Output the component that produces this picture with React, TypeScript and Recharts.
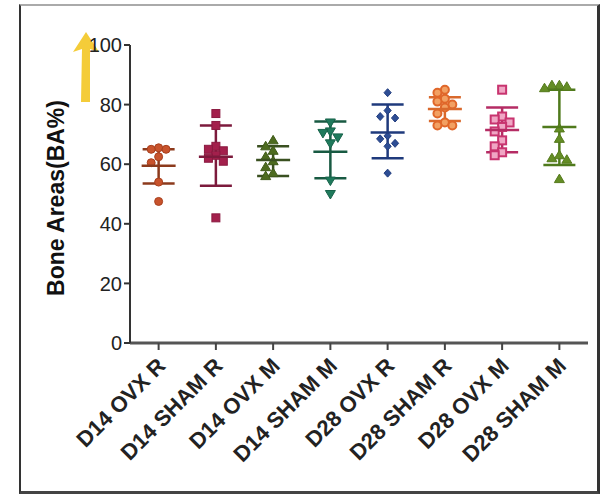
import React from "react";
import { ComposedChart, Scatter, XAxis, YAxis, ErrorBar } from "recharts";

const categories = [
  "D14 OVX R",
  "D14 SHAM R",
  "D14 OVX M",
  "D14 SHAM M",
  "D28 OVX R",
  "D28 SHAM R",
  "D28 OVX M",
  "D28 SHAM M",
];

const d14OvxR = [65.5, 65, 65, 62.5, 60.5, 54, 47.5];
const d14ShamR = [77, 73, 66, 65, 64.5, 63, 62, 61, 42];
const d14OvxM = [68, 66, 64.5, 62.5, 61, 59, 57, 56];
const d14ShamM = [74, 71, 70.5, 69, 67, 54.5, 50];
const d28OvxR = [84, 78, 76, 75.5, 69.5, 68.5, 67, 66, 57];
const d28ShamR = [85, 84, 82, 81, 80, 79, 77, 74, 73, 73];
const d28OvxM = [85, 76, 75, 74, 72.5, 71, 68, 66, 64, 63];
const d28ShamM = [86.5, 86.5, 86, 85.5, 72, 68.5, 63, 62, 61.5, 55];

const groupValues = [d14OvxR, d14ShamR, d14OvxM, d14ShamM, d28OvxR, d28ShamR, d28OvxM, d28ShamM];

const means = [59.5, 62.5, 61.4, 64.2, 70.6, 78.5, 71.5, 72.5];
const upperBars = [65, 73, 66, 74.3, 80, 82.5, 79, 85];
const lowerBars = [53.5, 52.8, 56, 55.3, 62, 74.5, 64, 59.7];

const yTicks = [0, 20, 40, 60, 80, 100];
const xTicks = [0, 1, 2, 3, 4, 5, 6, 7];

const markerKinds = ["circle", "square", "triangle", "triangleDown", "diamond", "circleOpen", "squareOpen", "triangle"];
const markerFill = ["#c8532c", "#a3204c", "#4d6b1f", "#1f7a5c", "#2d4d94", "#f2a062", "#f0a6c4", "#648d25"];
const markerStroke = ["#a8401e", "#8a1a40", "#3f5a18", "#17634a", "#243f80", "#e0672a", "#c8346f", "#557a1c"];
const summaryColor = ["#8c3a1c", "#7c1a3c", "#3a5020", "#185a42", "#1f3a7c", "#d9692c", "#b52c64", "#4f7a1c"];

function swarm(values: number[], gi: number) {
  const placed: { x: number; y: number }[] = [];
  const sorted = [...values].sort((a, b) => b - a);
  const step = 0.13;
  const cands = [0, -1, 1, -2, 2, -3, 3];
  for (const v of sorted) {
    let off = 0;
    for (const c of cands) {
      const dx = c * step;
      const ok = placed.every((p) => Math.abs(p.y - v) > 2.6 || Math.abs(p.x - dx) > step * 0.95);
      if (ok) {
        off = dx;
        break;
      }
    }
    placed.push({ x: off, y: v });
  }
  return placed.map((p) => ({ x: gi + p.x, y: p.y }));
}

const makeMarker = (gi: number) => (props: any) => {
  const { cx, cy } = props;
  if (cx == null || cy == null) return <g />;
  const kind = markerKinds[gi];
  const fill = markerFill[gi];
  const stroke = markerStroke[gi];
  const r = 4;
  if (kind === "circle" || kind === "circleOpen") {
    return <circle cx={cx} cy={cy} r={r} fill={fill} stroke={stroke} strokeWidth={kind === "circleOpen" ? 2 : 1} />;
  }
  if (kind === "square" || kind === "squareOpen") {
    return (
      <rect x={cx - r} y={cy - r} width={2 * r} height={2 * r} fill={fill} stroke={stroke} strokeWidth={kind === "squareOpen" ? 2 : 1} />
    );
  }
  if (kind === "triangle") {
    return (
      <polygon points={`${cx},${cy - 5} ${cx - 5},${cy + 3.5} ${cx + 5},${cy + 3.5}`} fill={fill} stroke={stroke} strokeWidth={1} />
    );
  }
  if (kind === "triangleDown") {
    return (
      <polygon points={`${cx},${cy + 5} ${cx - 5},${cy - 3.5} ${cx + 5},${cy - 3.5}`} fill={fill} stroke={stroke} strokeWidth={1} />
    );
  }
  return (
    <polygon points={`${cx},${cy - 4} ${cx + 3.6},${cy} ${cx},${cy + 4} ${cx - 3.6},${cy}`} fill={fill} stroke={stroke} strokeWidth={1} />
  );
};

const makeMeanLine = (gi: number) => (props: any) => {
  const { cx, cy } = props;
  if (cx == null || cy == null) return <g />;
  return <line x1={cx - 17} x2={cx + 17} y1={cy} y2={cy} stroke={summaryColor[gi]} strokeWidth={2.5} />;
};

const XTick = (props: any) => {
  const { x, y, payload } = props;
  return (
    <g transform={`translate(${x - 1},${y + 6})`}>
      <text
        x={0}
        y={0}
        dy={13}
        textAnchor="end"
        transform="rotate(-45)"
        fontWeight="bold"
        fontSize={22}
        fontFamily="'Liberation Sans', Arial, sans-serif"
        fill="#222"
      >
        {categories[payload.value]}
      </text>
    </g>
  );
};

const YLabel = () => (
  <text
    transform="translate(64,198) rotate(-90)"
    textAnchor="middle"
    fontWeight="bold"
    fontSize={23}
    fontFamily="'Liberation Sans', Arial, sans-serif"
    fill="#111"
  >
    Bone Areas(BA%)
  </text>
);

export default function App() {
  return (
    <div style={{ position: "absolute", left: 0, top: 0, width: 607, height: 495, background: "#fff", overflow: "hidden" }}>
      <div
        style={{
          position: "absolute",
          left: 19,
          top: 4,
          width: 576,
          height: 485,
          borderTop: "2px solid #aaa",
          borderLeft: "2px solid #333",
          borderRight: "3px solid #333",
          borderBottom: "3px solid #444",
        }}
      />
      <svg style={{ position: "absolute", left: 0, top: 0 }} width={607} height={495}>
        <polygon points="86,32 73,52 82,49 81,102 90,102 90,49 99,52" fill="#f3c623" opacity={0.9} />
      </svg>
      <div style={{ position: "absolute", left: 0, top: 0 }}>
        <ComposedChart width={607} height={495} margin={{ top: 45, right: 19, bottom: 40, left: 60 }}>
          <XAxis
            type="number"
            dataKey="x"
            domain={[-0.5, 7.5]}
            ticks={xTicks}
            interval={0}
            height={112}
            tick={<XTick />}
            tickSize={7}
            axisLine={{ stroke: "#555", strokeWidth: 3 }}
            tickLine={{ stroke: "#444", strokeWidth: 2 }}
            allowDataOverflow
          />
          <YAxis
            type="number"
            dataKey="y"
            domain={[0, 100]}
            ticks={yTicks}
            interval={0}
            width={70}
            tickSize={6}
            tickMargin={2}
            axisLine={{ stroke: "#333", strokeWidth: 2 }}
            tickLine={{ stroke: "#333", strokeWidth: 2 }}
            tick={{ fontSize: 20, fill: "#222", fontFamily: "'Liberation Sans', Arial, sans-serif" }}
            label={{ content: () => <YLabel /> }}
          />
          {groupValues.map((vals, gi) => (
            <Scatter
              key={`pts-${gi}`}
              data={swarm(vals, gi)}
              dataKey="y"
              shape={makeMarker(gi)}
              isAnimationActive={false}
            />
          ))}
          {means.map((m, gi) => (
            <Scatter
              key={`sum-${gi}`}
              data={[{ x: gi, y: m, err: [m - lowerBars[gi], upperBars[gi] - m] }]}
              dataKey="y"
              shape={makeMeanLine(gi)}
              isAnimationActive={false}
            >
              <ErrorBar dataKey="err" direction="y" width={16} stroke={summaryColor[gi]} strokeWidth={2.5} />
            </Scatter>
          ))}
        </ComposedChart>
      </div>
    </div>
  );
}
